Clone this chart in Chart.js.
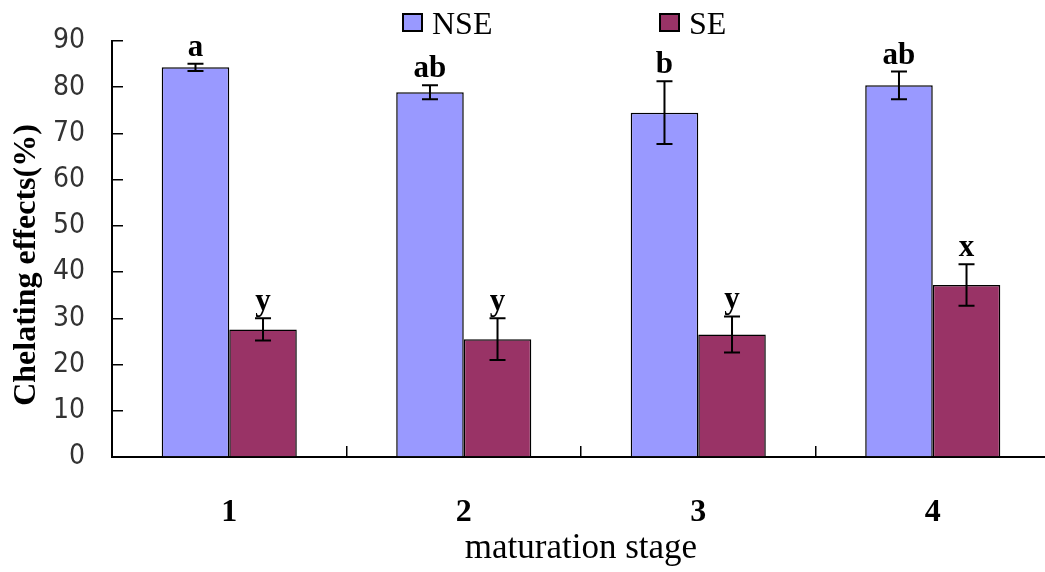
<!DOCTYPE html>
<html>
<head>
<meta charset="utf-8">
<script src="https://cdn.jsdelivr.net/npm/chart.js@4.4.1/dist/chart.umd.min.js"></script>
<style>
  html, body { margin: 0; padding: 0; background: #fff; overflow: hidden; }
  #wrap { width: 1050px; height: 572px; }
</style>
</head>
<body>
<div id="wrap"><canvas id="chelChart"></canvas></div>
<script>
const stages = ['1', '2', '3', '4'];
const nseValues = [84.3, 78.9, 74.5, 80.4];
const nseErr = [0.8, 1.5, 6.8, 3.0];
const nseLetters = ['a', 'ab', 'b', 'ab'];
const seValues = [27.6, 25.5, 26.5, 37.2];
const seErr = [2.4, 4.5, 3.9, 4.5];
const seLetters = ['y', 'y', 'y', 'x'];
const yTicks = [0, 10, 20, 30, 40, 50, 60, 70, 80, 90];

const serif = "'Liberation Serif', 'Times New Roman', serif";
const narrow = "'DejaVu Sans Condensed', 'Liberation Sans Narrow', 'Liberation Sans', Arial, sans-serif";

// error bars + significance letters
const errorBars = {
    id: 'errorBars',
    afterDatasetsDraw(chart) {
        const c = chart.ctx;
        const y = chart.scales.y;
        chart.data.datasets.forEach((ds, di) => {
            const meta = chart.getDatasetMeta(di);
            meta.data.forEach((bar, i) => {
                const v = ds.data[i], e = ds.errors[i];
                const top = y.getPixelForValue(v + e);
                const bot = y.getPixelForValue(v - e);
                c.save();
                c.strokeStyle = '#000';
                c.lineWidth = 2;
                c.beginPath();
                c.moveTo(bar.x, top); c.lineTo(bar.x, bot);
                c.moveTo(bar.x - 8, top); c.lineTo(bar.x + 8, top);
                c.moveTo(bar.x - 8, bot); c.lineTo(bar.x + 8, bot);
                c.stroke();
                c.fillStyle = '#000';
                c.font = 'bold 31px ' + serif;
                c.textAlign = 'center';
                c.textBaseline = 'alphabetic';
                c.fillText(ds.letters[i], bar.x, top - 8);
                c.restore();
            });
        });
    }
};

// legend drawn at the top
const topLegend = {
    id: 'topLegend',
    afterDraw(chart) {
        const c = chart.ctx;
        const xs = [403, 660];
        chart.data.datasets.forEach((ds, i) => {
            c.save();
            c.fillStyle = ds.backgroundColor;
            c.strokeStyle = '#000';
            c.lineWidth = 2;
            c.fillRect(xs[i], 14, 19, 17);
            c.strokeRect(xs[i], 14, 19, 17);
            c.fillStyle = '#000';
            c.font = '32px ' + serif;
            c.textBaseline = 'alphabetic';
            c.textAlign = 'left';
            c.fillText(ds.label, xs[i] + 29, 34);
            c.restore();
        });
    }
};

new Chart(document.getElementById('chelChart'), {
    type: 'bar',
    data: {
        labels: stages,
        datasets: [
            { label: 'NSE', data: nseValues, errors: nseErr, letters: nseLetters,
              backgroundColor: '#9999FF', borderColor: '#000', borderWidth: 1.5 },
            { label: 'SE', data: seValues, errors: seErr, letters: seLetters,
              backgroundColor: '#993366', borderColor: '#000', borderWidth: 1.5 }
        ]
    },
    options: {
        responsive: true,
        maintainAspectRatio: false,
        animation: false,
        layout: { padding: { top: 41, right: 0, left: 0, bottom: 0 } },
        datasets: { bar: { categoryPercentage: 0.576, barPercentage: 1 } },
        plugins: {
            legend: { display: false },
            tooltip: { enabled: false }
        },
        scales: {
            x: {
                grid: { display: true, drawOnChartArea: false, offset: true, tickLength: -11, color: '#000', lineWidth: 1.5 },
                border: { display: true, color: '#000', width: 2 },
                ticks: { color: '#000', padding: 48, font: { family: serif, size: 32, weight: 'bold' } },
                title: { display: true, text: 'maturation stage', color: '#000', padding: { top: 0, bottom: 2 },
                         font: { family: serif, size: 35 } },
                afterFit(scale) {
                    scale.height = 115;
                    scale.paddingLeft = 0;
                    scale.paddingRight = 0;
                }
            },
            y: {
                min: 0,
                max: 90,
                afterBuildTicks(scale) { scale.ticks = yTicks.map(v => ({ value: v })); },
                grid: { display: true, drawOnChartArea: false, tickLength: -11, color: '#000', lineWidth: 1.5 },
                border: { display: true, color: '#000', width: 2 },
                ticks: { color: '#333', padding: 38, font: { family: narrow, size: 28 } },
                title: { display: true, text: 'Chelating effects(%)    ', color: '#000', padding: { top: 8, bottom: 0 },
                         font: { family: serif, size: 32, weight: 'bold' } },
                afterFit(scale) {
                    scale.width = 112;
                    scale.paddingTop = 0;
                    scale.paddingBottom = 0;
                }
            }
        }
    },
    plugins: [errorBars, topLegend]
});
</script>
</body>
</html>
